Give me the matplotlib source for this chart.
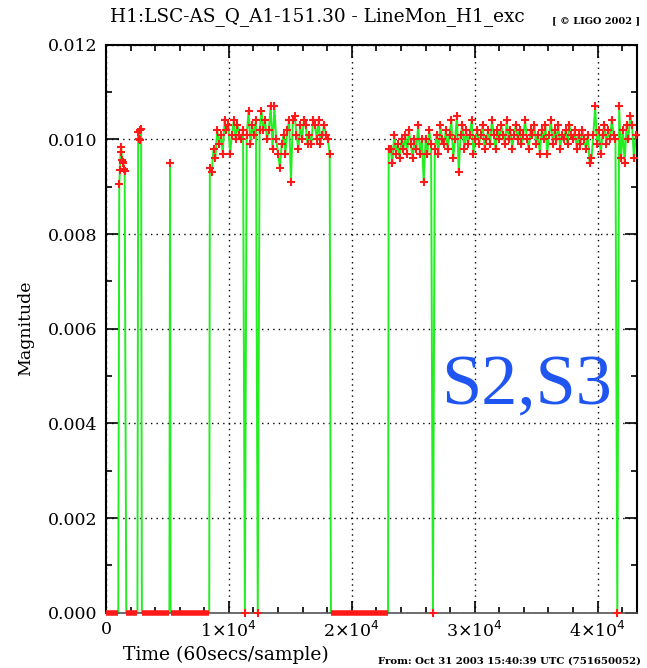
import matplotlib.pyplot as plt
import numpy as np
from matplotlib.ticker import MultipleLocator

# time axis: samples (60 s each), values: line magnitude
seg_a_start, seg_a_step = 1080, 55
seg_a = [0.00906, 0.00935, 0.00974, 0.00983, 0.00956, 0.00952, 0.00949, 0.00937, 0.00934]

seg_b_start, seg_b_step = 2620, 60
seg_b = [0.01016, 0.0100, 0.0102, 0.00999, 0.01021]

seg_c_t = [5210]
seg_c = [0.0095]

seg_d_start, seg_d_step = 8450, 150
seg_d = [0.0094, 0.0093, 0.0098, 0.0096, 0.0102, 0.0099, 0.0101, 0.0097, 0.0104, 0.0102,
         0.0103, 0.0097, 0.0101, 0.0104, 0.0100, 0.0103, 0.0101, 0.0100, 0.0102, 0.0000,
         0.0101, 0.0106, 0.0099, 0.0103, 0.0101, 0.0104, 0.0000, 0.0102, 0.0106, 0.0102,
         0.0104, 0.0100, 0.0102, 0.0107, 0.0098, 0.0107, 0.0100, 0.0097, 0.0094, 0.0099,
         0.0101, 0.0097, 0.0102, 0.0104, 0.0091, 0.0104, 0.0105, 0.0101, 0.0098, 0.0103,
         0.0100, 0.0104, 0.0103, 0.0099, 0.0101, 0.0099, 0.0104, 0.0103, 0.0100, 0.0104,
         0.0099, 0.0101, 0.0103, 0.0101, 0.0100, 0.0097]

seg_e_start, seg_e_step = 23000, 150
seg_e = [0.0098, 0.0098, 0.0095, 0.0101, 0.0097, 0.0099, 0.0096, 0.0100, 0.0098, 0.0101,
         0.0097, 0.0102, 0.0099, 0.0096, 0.0100, 0.0098, 0.0103, 0.0097, 0.0100, 0.0091,
         0.0100, 0.0097, 0.0102, 0.0099, 0.0000, 0.0098, 0.0101, 0.0097, 0.0103, 0.0100,
         0.0099, 0.0102, 0.0098, 0.0101, 0.0104, 0.0096, 0.0100, 0.0105, 0.0093, 0.0101,
         0.0103, 0.0098, 0.0102, 0.0099, 0.0101, 0.0104, 0.0097, 0.0100, 0.0102, 0.0099,
         0.0101, 0.0103, 0.0098, 0.0100, 0.0102, 0.0099, 0.0104, 0.0101, 0.0098, 0.0102,
         0.0100, 0.0103, 0.0101, 0.0099, 0.0104, 0.0100, 0.0102, 0.0098, 0.0101, 0.0103,
         0.0100, 0.0102, 0.0099, 0.0101, 0.0104, 0.0100, 0.0098, 0.0102, 0.0101, 0.0103,
         0.0099, 0.0101, 0.0097, 0.0102, 0.0100, 0.0103, 0.0097, 0.0101, 0.0104, 0.0099,
         0.0102, 0.0100, 0.0103, 0.0098, 0.0101, 0.0100, 0.0102, 0.0099, 0.0103, 0.0101,
         0.0100, 0.0102, 0.0098, 0.0101, 0.0099, 0.0102, 0.0100, 0.0098, 0.0101, 0.0095,
         0.0096, 0.0101, 0.0107, 0.0099, 0.0102, 0.0097, 0.0101, 0.0103, 0.0099, 0.0102,
         0.0100, 0.0104, 0.0101, 0.0100, 0.0000, 0.0107, 0.0096, 0.0102, 0.0095, 0.0103,
         0.0100, 0.0105, 0.0103, 0.0096, 0.0101]

# spans with no lock (magnitude 0)
gaps = [(0, 1000), (1650, 2560), (2920, 5160), (5260, 8400), (18300, 22950)]

segments = [
    (seg_a_start + seg_a_step * np.arange(len(seg_a)), seg_a),
    (seg_b_start + seg_b_step * np.arange(len(seg_b)), seg_b),
    (np.array(seg_c_t), seg_c),
    (seg_d_start + seg_d_step * np.arange(len(seg_d)), seg_d),
    (seg_e_start + seg_e_step * np.arange(len(seg_e)), seg_e),
]

# join everything into one time-ordered trace for the green line
t_all = [np.array([g[0], g[1]]) for g in gaps]
v_all = [np.zeros(2) for g in gaps]
for t, v in segments:
    t_all.append(np.asarray(t, dtype=float))
    v_all.append(np.asarray(v))
t_all = np.concatenate(t_all)
v_all = np.concatenate(v_all)
order = np.argsort(t_all)
t_all, v_all = t_all[order], v_all[order]

fig = plt.figure(figsize=(6.47, 6.68), dpi=100)
ax = fig.add_axes([0.1638, 0.0828, 0.8207, 0.8503])

ax.plot(t_all, v_all, color="#22ee22", lw=1.4, zorder=2, clip_on=False)
for t, v in segments:
    ax.plot(t, v, "+", color="#ff1a1a", ms=5.5, mew=1.5, zorder=3, clip_on=False)
for g0, g1 in gaps:
    ax.plot([g0, g1], [0, 0], color="#ff1a1a", lw=4, solid_capstyle="butt", zorder=4,
            clip_on=False)

ax.set_xlim(0, 43200)
ax.set_ylim(0, 0.012)
ax.xaxis.set_major_locator(MultipleLocator(10000))
ax.xaxis.set_minor_locator(MultipleLocator(2000))
ax.yaxis.set_major_locator(MultipleLocator(0.002))
ax.yaxis.set_minor_locator(MultipleLocator(0.001))

ax.set_xticks([0, 10000, 20000, 30000, 40000])
ax.set_xticklabels(["0", r"1$\times$10$^4$", r"2$\times$10$^4$", r"3$\times$10$^4$", r"4$\times$10$^4$"])
ax.set_yticks([0, 0.002, 0.004, 0.006, 0.008, 0.010, 0.012])
ax.set_yticklabels(["0.000", "0.002", "0.004", "0.006", "0.008", "0.010", "0.012"])

ax.tick_params(which="both", direction="in", top=True, right=True, width=1.2, labelsize=12.5)
ax.tick_params(which="major", length=9, pad=6)
ax.tick_params(which="minor", length=4.5)
for lab in ax.get_xticklabels() + ax.get_yticklabels():
    lab.set_family("DejaVu Serif")

ax.grid(True, which="major", color="k", linestyle=(0, (1, 3)), lw=1)
for s in ax.spines.values():
    s.set_linewidth(1.5)
ax.spines["bottom"].set_color("#555555")
ax.spines["bottom"].set_linewidth(1.2)

ax.set_xlabel("Time (60secs/sample)", family="DejaVu Serif", fontsize=13.5, labelpad=3)
ax.xaxis.set_label_coords(0.225, -0.058)
ax.set_ylabel("Magnitude", family="DejaVu Serif", fontsize=12.5, labelpad=10)
fig.text(0.49, 0.975, "H1:LSC-AS_Q_A1-151.30 - LineMon_H1_exc", family="DejaVu Serif",
         fontsize=13.3, ha="center", va="center")
fig.text(0.99, 0.969, "[ \u00a9 LIGO 2002 ]", family="DejaVu Serif", fontsize=7,
         weight="bold", ha="right", va="center")
fig.text(0.99, 0.011, "From: Oct 31 2003 15:40:39 UTC (751650052)", family="DejaVu Serif",
         fontsize=7.3, weight="bold", ha="right", va="center")
ax.text(0.631, 0.366, "S2,S3", transform=ax.transAxes, family="Liberation Serif",
        fontsize=52, color="#1f55f0", ha="left", va="baseline")

fig.savefig("out.png", dpi=100)
